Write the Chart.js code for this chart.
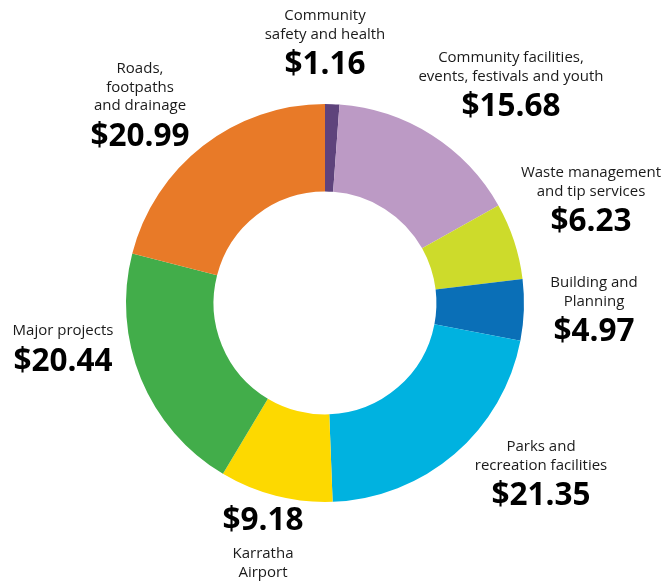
<!DOCTYPE html>
<html>
<head>
<meta charset="utf-8">
<script src="https://cdn.jsdelivr.net/npm/chart.js@4/dist/chart.umd.min.js"></script>
<style>
html,body{margin:0;padding:0;background:#fff;}
#c{display:block;}
</style>
</head>
<body>
<canvas id="c" width="667" height="582"></canvas>
<script>
const categories = [
  ["Community", "safety and health"],
  ["Community facilities,", "events, festivals and youth"],
  ["Waste management", "and tip services"],
  ["Building and", "Planning"],
  ["Parks and", "recreation facilities"],
  ["Karratha", "Airport"],
  ["Major projects"],
  ["Roads,", "footpaths", "and drainage"]
];
const values = [1.16, 15.68, 6.23, 4.97, 21.35, 9.18, 20.44, 20.99];
const valueLabels = ["$1.16", "$15.68", "$6.23", "$4.97", "$21.35", "$9.18", "$20.44", "$20.99"];
const colors = ["#5e437c", "#bc9ac5", "#cddb2b", "#0a6fb7", "#00b2e0", "#fdd900", "#42ad4a", "#e87a28"];

// label layout: x center, y of first text line, whether value comes before the name
const labelLayout = [
  {x: 325, y: 16, valueFirst: false},
  {x: 511, y: 58, valueFirst: false},
  {x: 591, y: 173, valueFirst: false},
  {x: 594, y: 283, valueFirst: false},
  {x: 541, y: 447, valueFirst: false},
  {x: 263, y: 521, valueFirst: true},
  {x: 63, y: 331, valueFirst: false},
  {x: 140, y: 69, valueFirst: false}
];

const labelPlugin = {
  id: 'outerLabels',
  afterDraw(chart) {
    const ctx = chart.ctx;
    ctx.save();
    ctx.textAlign = 'center';
    ctx.textBaseline = 'middle';
    const lineH = 18.5;
    const nameFont = '15px "Open Sans", sans-serif';
    const valFont = 'bold 31.5px "Open Sans", sans-serif';
    labelLayout.forEach((p, i) => {
      const lines = categories[i];
      if (!p.valueFirst) {
        ctx.font = nameFont;
        ctx.fillStyle = '#1a1a1a';
        lines.forEach((t, k) => ctx.fillText(t, p.x, p.y + k * lineH));
        const vy = p.y + (lines.length - 1) * lineH + 31;
        ctx.font = valFont;
        ctx.fillStyle = '#000';
        ctx.fillText(valueLabels[i], p.x, vy);
      } else {
        ctx.font = valFont;
        ctx.fillStyle = '#000';
        ctx.fillText(valueLabels[i], p.x, p.y);
        ctx.font = nameFont;
        ctx.fillStyle = '#1a1a1a';
        lines.forEach((t, k) => ctx.fillText(t, p.x, p.y + 33 + k * lineH));
      }
    });
    ctx.restore();
  }
};

new Chart(document.getElementById('c'), {
  type: 'doughnut',
  data: {
    labels: categories.map(l => l.join(' ')),
    datasets: [{
      data: values,
      backgroundColor: colors,
      borderWidth: 0,
      hoverOffset: 0
    }]
  },
  options: {
    responsive: false,
    animation: false,
    cutout: '56%',
    rotation: 0,
    layout: {padding: {left: 126, right: 143, top: 104, bottom: 80}},
    plugins: {
      legend: {display: false},
      tooltip: {enabled: false}
    }
  },
  plugins: [labelPlugin]
});
</script>
</body>
</html>
